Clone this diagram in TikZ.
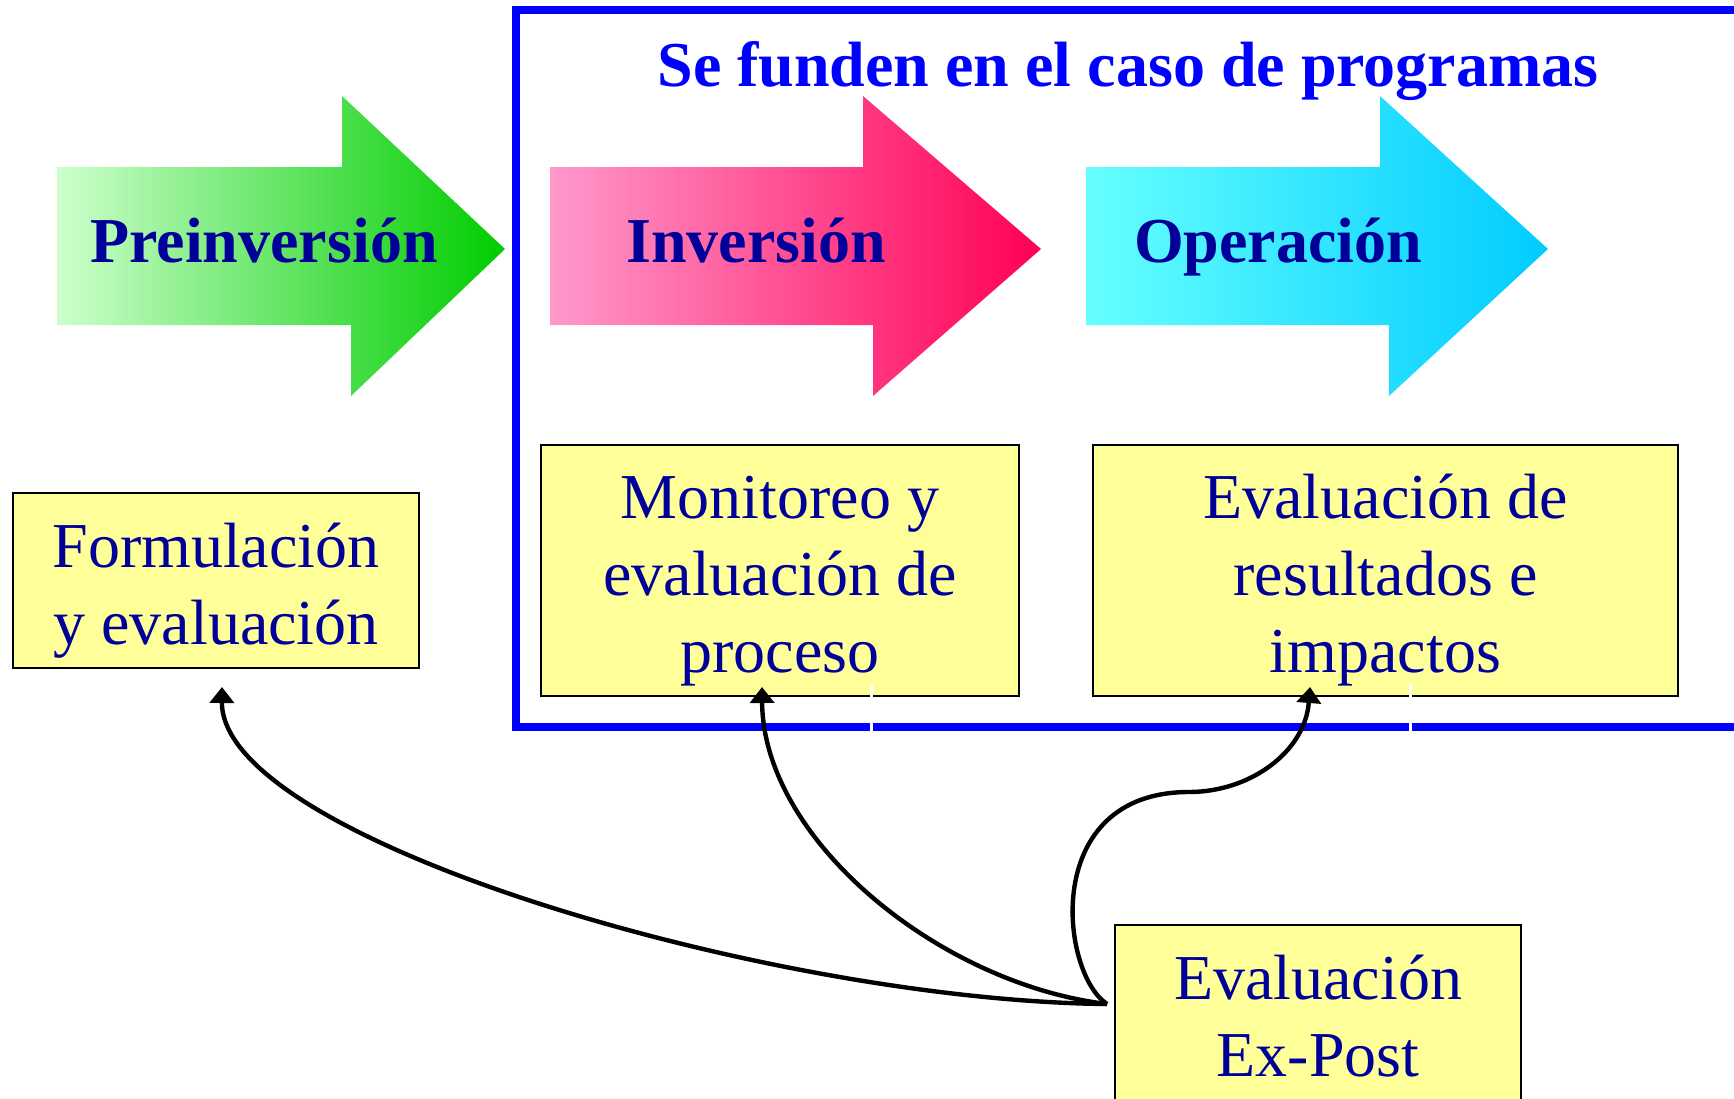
\documentclass[tikz,border=0pt]{standalone}
\usepackage{fontspec}
\setmainfont{Liberation Serif}
\usetikzlibrary{arrows.meta}
\definecolor{navytext}{RGB}{0,0,153}
\definecolor{boxyellow}{RGB}{255,255,153}
\definecolor{frameblue}{RGB}{0,0,255}
\definecolor{greenlight}{RGB}{204,255,204}
\definecolor{greendark}{RGB}{0,204,0}
\definecolor{pinklight}{RGB}{255,153,204}
\definecolor{pinkdark}{RGB}{255,0,85}
\definecolor{cyanlight}{RGB}{102,255,255}
\definecolor{cyandark}{RGB}{0,204,255}
\newcommand{\boxstrut}{\rule{0pt}{32pt}}
\tikzset{
    x=0.5pt, y=-0.5pt, % one unit is one pixel of the slide, y goes down
    }

\begin{document}
\begin{tikzpicture}[
yellowbox/.style={rectangle, draw=black, line width=1pt, fill=boxyellow, align=center, text=navytext, font=\fontsize{32}{38.5}\selectfont, inner sep=0pt},
phaselabel/.style={text=navytext, font=\fontsize{32}{38.5}\selectfont\bfseries, anchor=base},
linkarrow/.style={line width=2.2pt, -{Triangle[length=8pt,width=12pt]}},
]
\useasboundingbox (0,0) rectangle (1734,1098);
\clip (0,0) rectangle (1734,1098);

% blue frame
\draw[frameblue, line width=3.8pt] (1760,10) -- (516,10) -- (516,727) -- (1760,727);
\node[text=frameblue, font=\fontsize{32}{38.5}\selectfont\bfseries, anchor=base] (title) at (1128,86) {Se funden en el caso de programas};

% phase arrows
\shade[left color=greenlight, right color=greendark] (57,167) -- (342,167) -- (342,96) -- (505,249) -- (351,396) -- (351,325) -- (57,325) -- cycle;
\shade[left color=pinklight, right color=pinkdark] (550,167) -- (863,167) -- (863,96) -- (1041,249) -- (873,396) -- (873,325) -- (550,325) -- cycle;
\shade[left color=cyanlight, right color=cyandark] (1086,167) -- (1380,167) -- (1380,96) -- (1548,249) -- (1389,396) -- (1389,325) -- (1086,325) -- cycle;
\node[phaselabel] (preinv) at (264,262) {Preinversión};
\node[phaselabel] (inver) at (756,262) {Inversión};
\node[phaselabel] (opera) at (1278,262) {Operación};

% evaluation boxes
\node[yellowbox, minimum width=203pt, minimum height=87.5pt] (formul) at (216,580.5) {\boxstrut Formulación\\y evaluación};
\node[yellowbox, minimum width=239pt, minimum height=125.5pt] (monit) at (780,570.5) {\boxstrut Monitoreo y\\evaluación de\\proceso};
\node[yellowbox, minimum width=292.5pt, minimum height=125.5pt] (result) at (1385.5,570.5) {\boxstrut Evaluación de\\resultados e\\impactos};
\node[yellowbox, minimum width=203pt, minimum height=90.9pt] (expost) at (1318,1015.9) {Evaluación\\Ex-Post};

\draw[white, line width=1.5pt] (871,684) -- (871,731);
\draw[white, line width=1.5pt] (1410,684) -- (1410,731);

\draw[linkarrow] ([xshift=-3.5pt,yshift=5.95pt]expost.west) .. controls (774,1001) and (221,840) .. ([xshift=3pt,yshift=-9pt]formul.south);
\draw[linkarrow] ([xshift=-3.5pt,yshift=5.95pt]expost.west) .. controls (940,984) and (763,840) .. ([xshift=-9pt,yshift=5pt]monit.south);
\draw[linkarrow] ([xshift=-3.5pt,yshift=5.95pt]expost.west) .. controls (1060,973) and (1040,792) .. (1189,792) .. controls (1250,792) and (1305,752) .. ([xshift=-37.75pt,yshift=5pt]result.south);
\end{tikzpicture}
\end{document}
